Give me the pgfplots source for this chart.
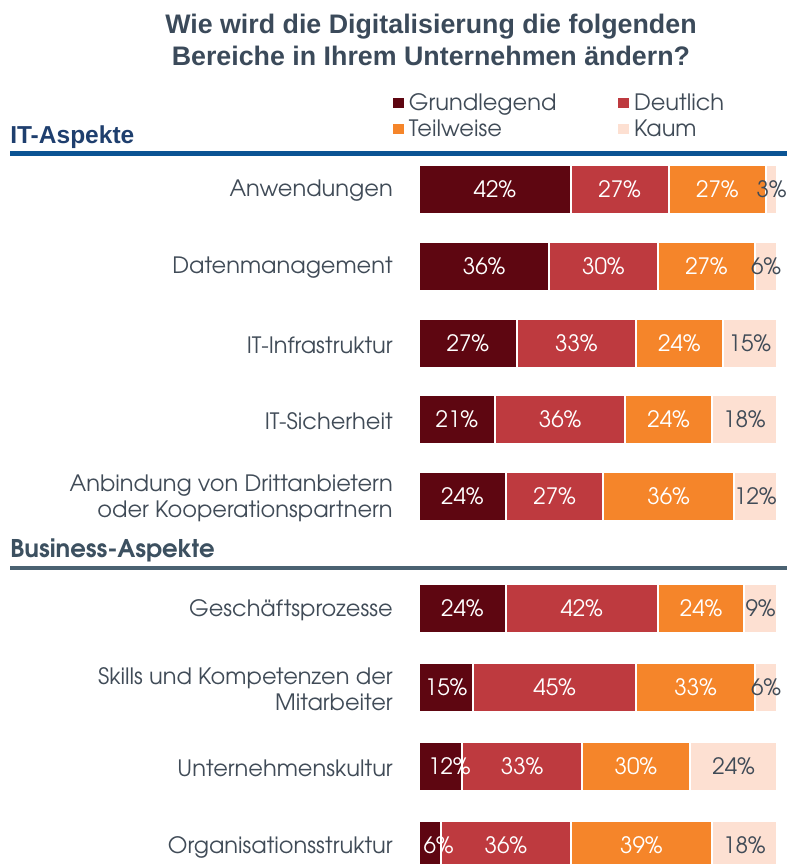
\documentclass[border=0pt]{standalone}
\usepackage{pgfplots}
\pgfplotsset{compat=1.18}
\usepackage{fontspec}
\setmainfont{texgyreadventor}[Extension=.otf, UprightFont=*-regular, BoldFont=*-bold]
\newfontfamily\titlefont{Liberation Sans}
\definecolor{cA}{HTML}{5E0611}
\definecolor{cB}{HTML}{BE3A3F}
\definecolor{cC}{HTML}{F5852A}
\definecolor{cD}{HTML}{FDE0D2}
\definecolor{txt}{HTML}{404B57}
\definecolor{ttl}{HTML}{3B4A5A}
\definecolor{itblue}{HTML}{1F3F6E}
\definecolor{itline}{HTML}{0B5494}
\definecolor{bus}{HTML}{3C5060}
\definecolor{busline}{HTML}{4B6272}
\newcommand\lbl{\fontsize{16.9}{19.5}\selectfont}
\newcommand\shiftif[2]{\pgfmathfloattofixed{\pgfplotspointmeta}\ifdim\pgfmathresult pt<#1pt\hspace*{#2pt}\fi}
\begin{document}
\begin{tikzpicture}
\begin{axis}[
  at={(0,0)}, anchor=south west,
  scale only axis, width=268.5pt, height=648pt,
  xmin=0, xmax=99, ymin=0, ymax=864, y dir=reverse,
  enlargelimits=false, clip=false,
  axis line style={draw=none}, tick style={draw=none},
  xtick=\empty,
  ytick={189,266,343,419,496,608,687,766,845},
  yticklabels={Anwendungen,Datenmanagement,IT-Infrastruktur,IT-Sicherheit,{Anbindung von Drittanbietern\\oder Kooperationspartnern},Gesch\"aftsprozesse,{Skills und Kompetenzen der\\Mitarbeiter},Unternehmenskultur,Organisationsstruktur},
  yticklabel style={align=right, font=\lbl, text=txt, inner sep=0pt, xshift=-19.5pt, yshift=-1.5pt},
  xbar stacked, bar width=49,
  point meta=explicit,
  /pgf/number format/assume math mode=true,
  nodes near coords={\pgfmathprintnumber{\pgfplotspointmeta}\%},
  every node near coord/.append style={font=\lbl, text=white},
  legend columns=2,
  legend cell align=left,
  legend image code/.code={\fill[#1,draw=none] (0pt,-3.9pt) rectangle (7.8pt,3.9pt);},
  legend style={at={(axis cs:-7.19,93.5)}, anchor=north west, draw=none, fill=none,
     inner sep=0pt, font=\lbl, text=txt, row sep=5pt,
     nodes={inner sep=0pt, text=txt},
     /tikz/every odd column/.append style={column sep=4pt}},
]
\addplot+[fill=cA, draw=white, line width=1.5pt,
  nodes near coords={\shiftif{13}{13}\pgfmathprintnumber{\pgfplotspointmeta}\%}] coordinates {
 (42,189) [42] (36,266) [36] (27,343) [27] (21,419) [21] (24,496) [24]
 (24,608) [24] (15,687) [15] (12,766) [12] (6,845) [6]};
\addplot+[fill=cB, draw=white, line width=1.5pt] coordinates {
 (27,189) [27] (30,266) [30] (33,343) [33] (36,419) [36] (27,496) [27]
 (42,608) [42] (45,687) [45] (33,766) [33] (36,845) [36]};
\addplot+[fill=cC, draw=white, line width=1.5pt] coordinates {
 (27,189) [27] (27,266) [27] (24,343) [24] (24,419) [24] (36,496) [36]
 (24,608) [24] (33,687) [33] (30,766) [30] (39,845) [39]};
\addplot+[fill=cD, draw=white, line width=1.5pt, every node near coord/.append style={text=txt}] coordinates {
 (3,189) [3] (6,266) [6] (15,343) [15] (18,419) [18] (12,496) [12]
 (9,608) [9] (6,687) [6] (24,766) [24] (18,845) [18]};
\legend{\makebox[157pt][l]{Grundlegend},Deutlich,Teilweise,Kaum}
\node[anchor=base, font=\titlefont\bfseries\fontsize{20.1}{24}\selectfont, text=ttl] at (axis cs:3.3,33) {Wie wird die Digitalisierung die folgenden};
\node[anchor=base, font=\titlefont\bfseries\fontsize{20.1}{24}\selectfont, text=ttl] at (axis cs:3.3,65) {Bereiche in Ihrem Unternehmen \"andern?};
\node[anchor=base west, inner sep=0pt, font=\titlefont\bfseries\fontsize{18.4}{20}\selectfont, text=itblue] at (axis cs:-113.1,143) {IT-Aspekte};
\draw[itline, line width=3.75pt] (axis cs:-113.1,153.5) -- (axis cs:101.8,153.5);
\node[anchor=base west, inner sep=0pt, font=\bfseries\fontsize{18.3}{20}\selectfont, text=bus] at (axis cs:-113.1,557) {Business-Aspekte};
\draw[busline, line width=3pt] (axis cs:-113.1,568) -- (axis cs:101.8,568);
\end{axis}
\pgfresetboundingbox
\path (-314.25pt,0pt) rectangle (276pt,648pt);
\end{tikzpicture}
\end{document}
